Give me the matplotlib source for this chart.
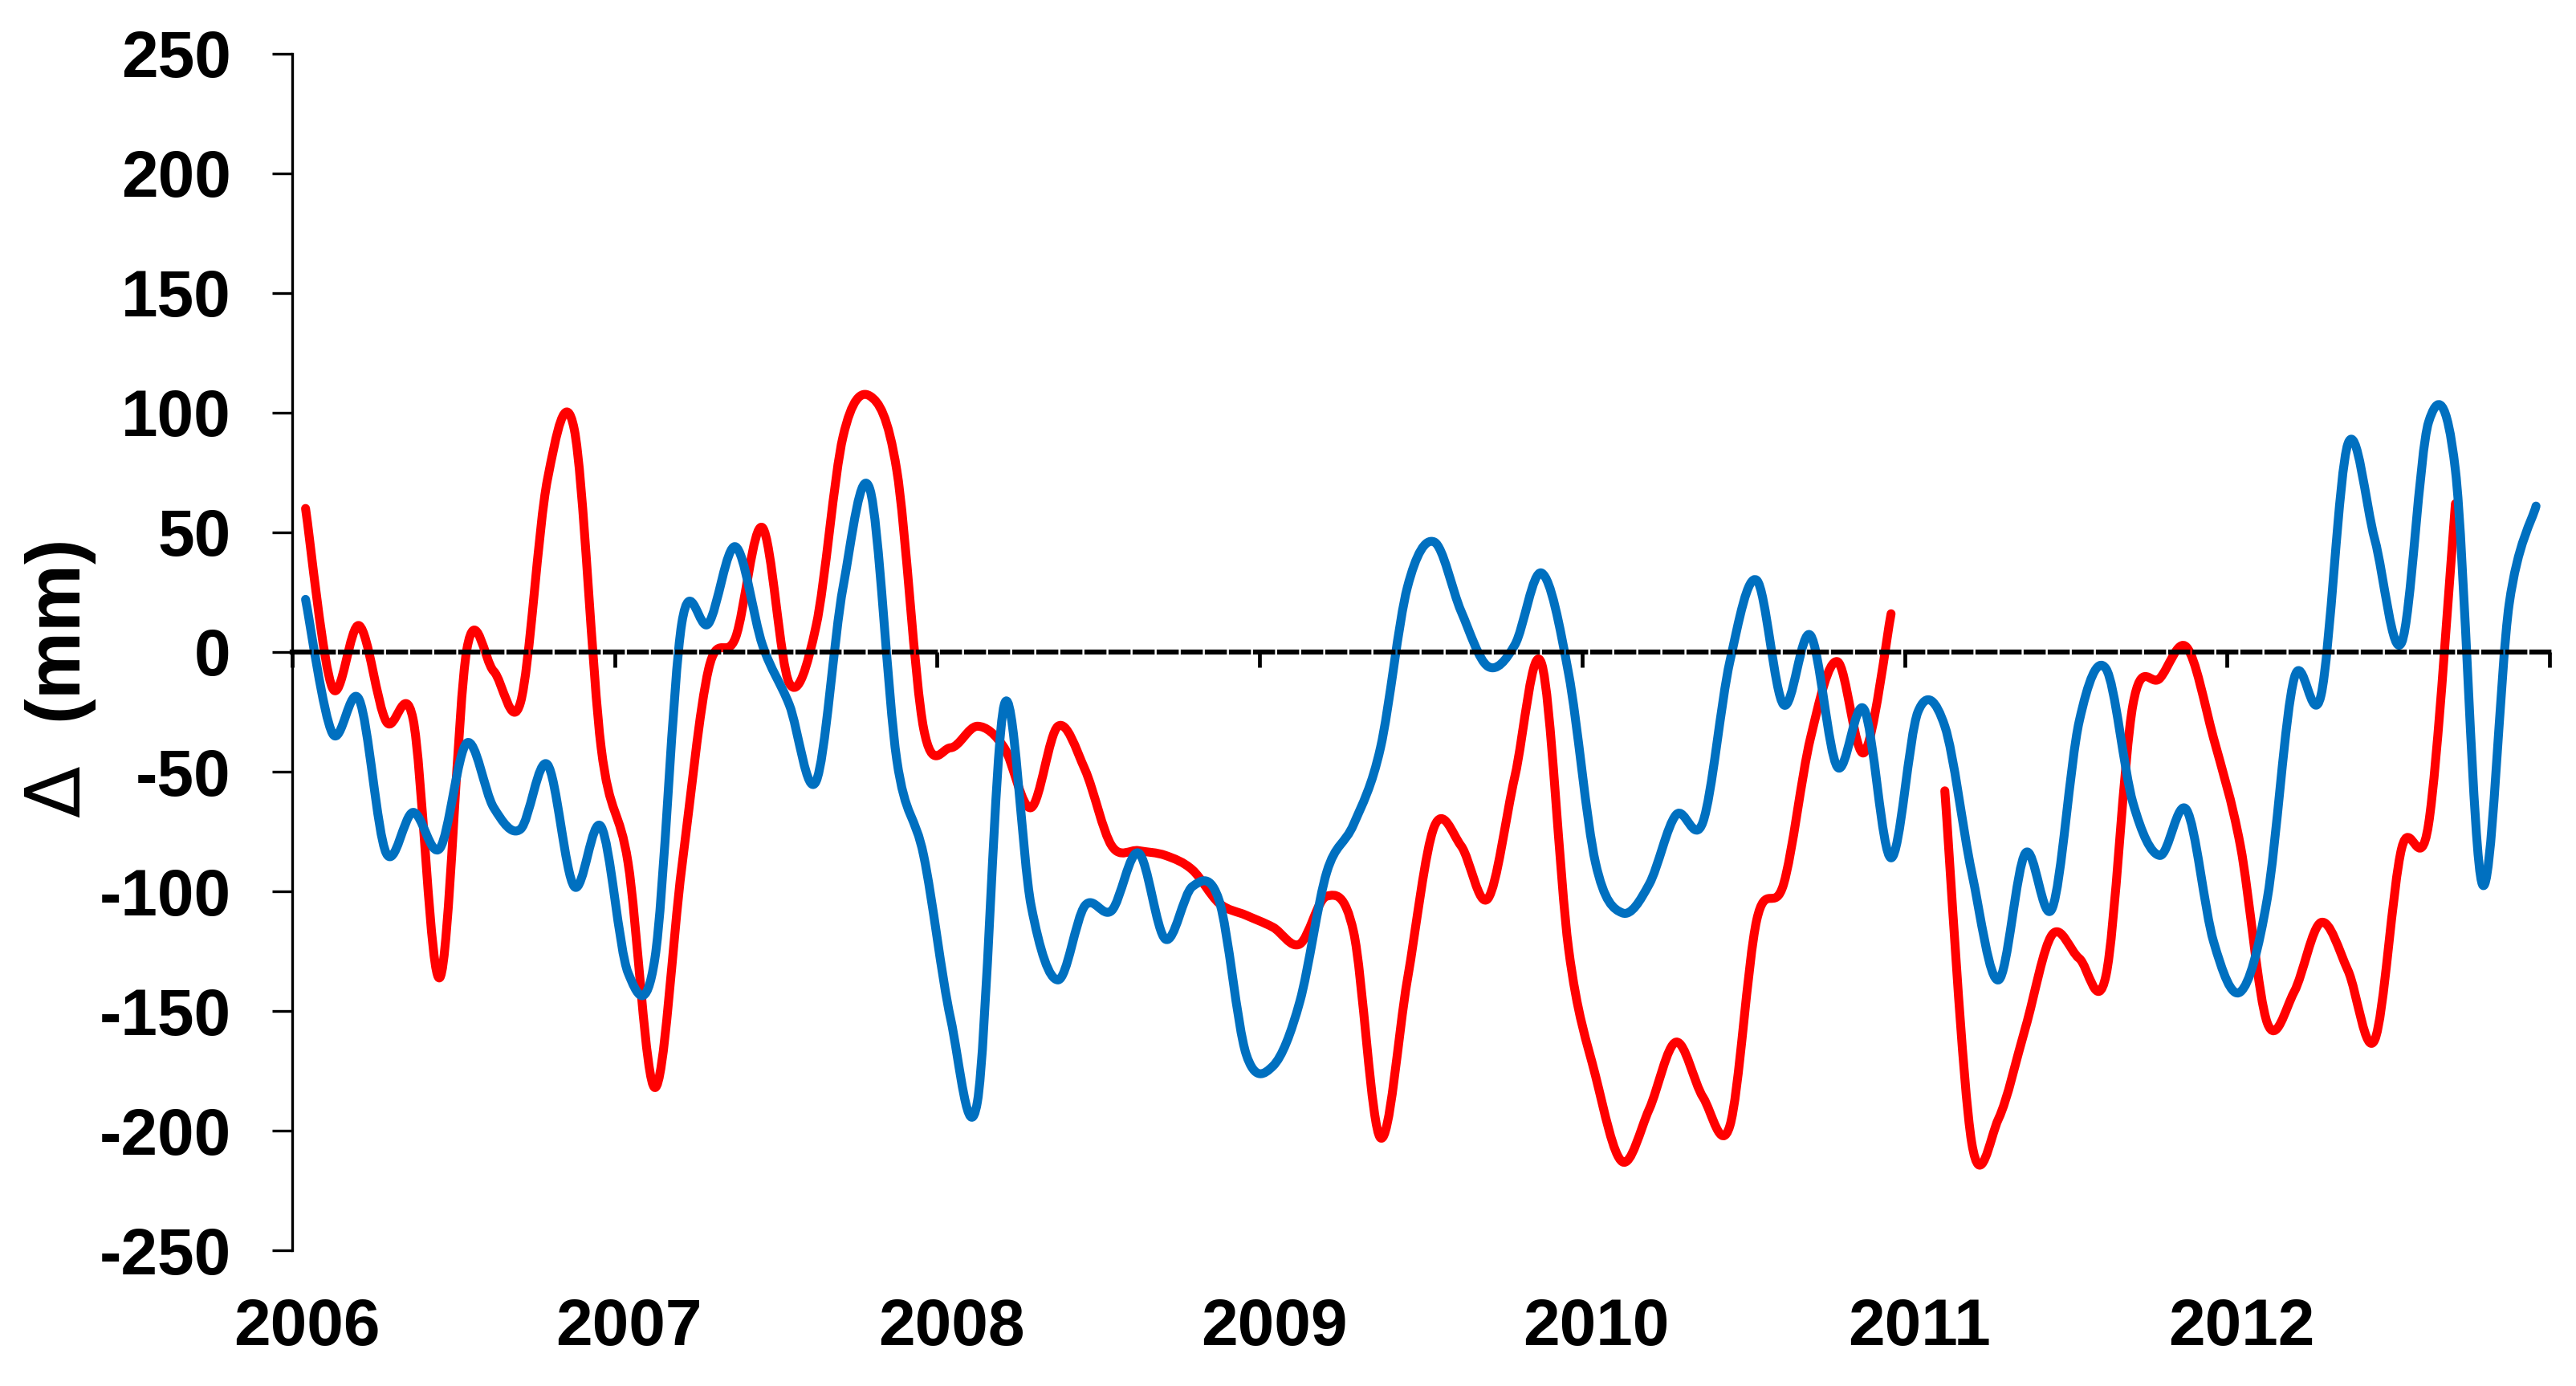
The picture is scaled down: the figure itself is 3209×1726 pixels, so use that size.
import numpy as np
import matplotlib.pyplot as plt
from matplotlib.path import Path
from matplotlib.patches import PathPatch
from matplotlib.transforms import ScaledTranslation

plt.rcParams['font.family'] = ['Liberation Sans', 'DejaVu Sans']
plt.rcParams['mathtext.fontset'] = 'dejavusans'
plt.rcParams['axes.unicode_minus'] = False

# monthly values Jan 2006 .. Dec 2012, in mm (None = no data)
years = [2006, 2007, 2008, 2009, 2010, 2011, 2012]
red = [60, -15, 11, -29, -28, -136, 1, -8, -21, 72, 93, -40,
       -88, -182, -90, -7, 6, 52, -13, 11, 90, 107, 76, -32,
       -40, -31, -40, -65, -31, -49, -81, -83, -85, -91, -105, -110,
       -115, -122, -102, -117, -203, -137, -73, -81, -103, -52, -5, -124,
       -177, -213, -191, -163, -186, -198, -112, -97, -36, -4, -42, 16,
       None, -58, -205, -195, -157, -118, -128, -135, -22, -11, 2, -36,
       -81, -155, -142, -113, -133, -162, -82, -72, 62, None, None, None]
blue = [22, -34, -20, -84, -67, -82, -38, -65, -74, -47, -98, -73,
        -134, -128, 12, 12, 44, 3, -22, -54, 27, 68, -45, -85,
        -153, -188, -22, -106, -137, -106, -108, -84, -120, -98, -104, -168,
        -173, -146, -92, -72, -40, 27, 46, 17, -6, 3, 33, -9,
        -88, -109, -97, -68, -71, -4, 30, -22, 7, -48, -24, -86,
        -25, -31, -92, -137, -84, -107, -29, -7, -63, -85, -66, -121,
        -142, -103, -11, -18, 87, 47, 4, 96, 76, -97, 20, 61]


def smooth_path(x, y):
    # excel-style smoothed line: cubic bezier through every point
    verts, codes = [], []
    runs, cur = [], []
    for xi, yi in zip(x, y):
        if yi is None:
            if cur:
                runs.append(cur)
            cur = []
        else:
            cur.append((xi, yi))
    if cur:
        runs.append(cur)
    for run in runs:
        p = np.array(run, dtype=float)
        n = len(p)
        verts.append(p[0])
        codes.append(Path.MOVETO)
        for i in range(n - 1):
            p0 = p[i - 1] if i > 0 else p[i]
            p3 = p[i + 2] if i + 2 < n else p[i + 1]
            c1 = p[i] + (p[i + 1] - p0) / 6
            c2 = p[i + 1] - (p3 - p[i]) / 6
            verts += [c1, c2, p[i + 1]]
            codes += [Path.CURVE4] * 3
    return Path(verts, codes)


x = years[0] + (np.arange(len(blue)) + 0.5) / 12

fig = plt.figure(figsize=(32.09, 17.26), dpi=100)
ax = fig.add_axes([0.1134, 0.0979, 0.8763, 0.8633])

for vals, col in [(red, '#ff0000'), (blue, '#0070c0')]:
    patch = PathPatch(smooth_path(x, vals), fill=False, edgecolor=col, lw=8,
                      capstyle='round', joinstyle='round')
    ax.add_patch(patch)

ax.set_xlim(2006, 2013)
ax.set_ylim(-250, 250)

ax.spines['top'].set_visible(False)
ax.spines['right'].set_visible(False)
ax.spines['left'].set_linewidth(2.4)
ax.spines['bottom'].set_position(('data', 0))
ax.spines['bottom'].set_linewidth(4.5)
ax.spines['bottom'].set_linestyle((0, (3.4, 1.4)))

ax.set_yticks(np.arange(-250, 251, 50))
ax.tick_params(axis='y', direction='out', length=18, width=2.4, pad=37, labelsize=59)
ax.set_xticks(years + [2013])
ax.set_xticklabels([str(y) for y in years] + [''])
ax.tick_params(axis='x', direction='out', length=13.7, width=3.4, pad=565, labelsize=59)
for lab in ax.get_xticklabels() + ax.get_yticklabels():
    lab.set_fontweight('bold')
for lab in ax.get_xticklabels():
    lab.set_transform(lab.get_transform() + ScaledTranslation(0.18, 0, fig.dpi_scale_trans))

fig.text(76 / 3209, 1 - 846 / 1726, r'$\Delta$  (mm)', rotation=90, ha='center', va='center',
         fontsize=68, fontweight='bold')

fig.savefig('out.png', dpi=100)
